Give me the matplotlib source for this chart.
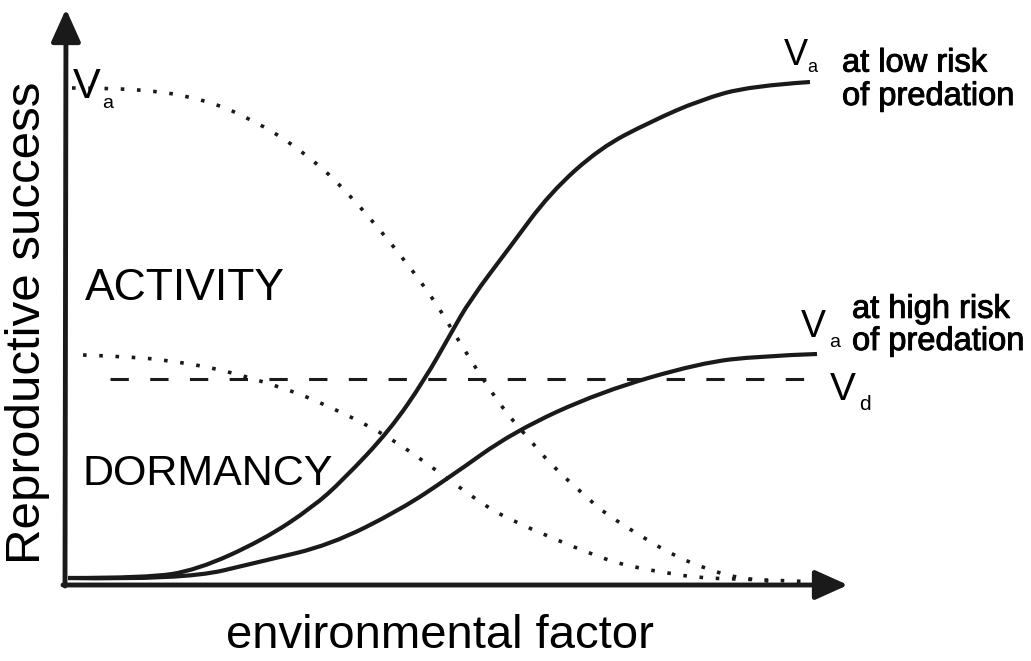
import matplotlib.pyplot as plt
import matplotlib.patheffects as pe
from matplotlib.path import Path
from matplotlib.patches import PathPatch

plt.rcParams['font.family'] = ['Liberation Sans', 'DejaVu Sans']

# values (x = environmental factor, y = reproductive success)
low_x = [3, 82, 132, 198, 248, 278, 325, 360, 385, 405, 445, 485, 535, 585, 635, 685, 745]
low_y = [7, 7, 15, 45, 78, 105, 155, 206, 250, 285, 338, 392, 437, 463, 485, 499, 503]

high_x = [3, 118, 198, 265, 335, 385, 448, 535, 635, 695, 752]
high_y = [7, 5, 24, 40, 75, 108, 153, 193, 222, 229, 231]

dorm1_x = [7, 75, 142, 188, 232, 282, 360, 395, 423, 443, 465, 488, 525, 538, 582, 612, 642, 675, 715]
dorm1_y = [497, 497, 485, 465, 438, 395, 300, 242, 198, 170, 145, 118, 85, 73, 45, 28, 16, 6, 3]

dorm2_x = [18, 72, 105, 138, 172, 202, 235, 267, 298, 328, 357, 383, 412, 440, 535, 568, 602, 635, 675, 755]
dorm2_y = [230, 228, 224, 219, 211, 202, 191, 177, 162, 145, 125, 106, 85, 67, 27, 18, 12, 7, 6, 3]

vd_x = [45, 742]
vd_y = [206, 206]

INK = '#1a1a1a'


def smooth_curve(xs, ys):
    # quadratic spline through the read points, drawn by matplotlib's path
    pts = list(zip(xs, ys))
    verts = [pts[0]]
    codes = [Path.MOVETO]
    for i in range(1, len(pts) - 1):
        if i == len(pts) - 2:
            end = pts[-1]
        else:
            end = ((pts[i][0] + pts[i + 1][0]) / 2, (pts[i][1] + pts[i + 1][1]) / 2)
        verts += [pts[i], end]
        codes += [Path.CURVE3, Path.CURVE3]
    return Path(verts, codes)


fig = plt.figure(figsize=(10.31, 6.61), dpi=100)
ax = fig.add_axes([0, 0, 1, 1])
ax.set_xlim(-65, 966)
ax.set_ylim(-76, 585)
ax.axis('off')

# axes with arrow heads
arrow = dict(arrowstyle='-|>,head_length=1.0,head_width=0.45', lw=3.5, color=INK,
             mutation_scale=20, shrinkA=0, shrinkB=0)
ax.annotate('', xy=(1, 576), xytext=(0, -1), arrowprops=arrow)
ax.annotate('', xy=(783, 0), xytext=(-2, 0), arrowprops=arrow)

ax.add_patch(PathPatch(smooth_curve(low_x, low_y), fill=False, ec=INK, lw=3))
ax.add_patch(PathPatch(smooth_curve(high_x, high_y), fill=False, ec=INK, lw=3))
ax.add_patch(PathPatch(smooth_curve(dorm1_x, dorm1_y), fill=False, ec=INK, lw=2.6,
                       linestyle=(0, (1, 3.5))))
ax.add_patch(PathPatch(smooth_curve(dorm2_x, dorm2_y), fill=False, ec=INK, lw=2.6,
                       linestyle=(0, (1, 3.5))))
ax.plot(vd_x, vd_y, color=INK, lw=2.2, linestyle=(0, (6, 7)))

ax.text(20, 285, 'ACTIVITY', fontsize=32, va='baseline')
ax.text(17, 100, 'DORMANCY', fontsize=31, va='baseline')

ax.text(8, 487, 'V', fontsize=30, va='baseline')
ax.text(37, 477, 'a', fontsize=14, va='baseline')

heavy = [pe.withStroke(linewidth=0.7, foreground='black')]

ax.text(719, 520, 'V', fontsize=26, va='baseline')
ax.text(742, 513, 'a', fontsize=13, va='baseline')
ax.text(777, 480, 'at low risk\nof predation', fontsize=23.5, va='baseline',
        linespacing=1.1, path_effects=heavy)

ax.text(736, 248, 'V', fontsize=27, va='baseline')
ax.text(764, 238, 'a', fontsize=14, va='baseline')
ax.text(787, 235, 'at high risk\nof predation', fontsize=23.5, va='baseline',
        linespacing=1.05, path_effects=heavy)

ax.text(765, 185, 'V', fontsize=28, va='baseline')
ax.text(794, 175, 'd', fontsize=15, va='baseline')

ax.text(-37, 262, 'Reproductive success', fontsize=35.5, rotation=90, ha='center', va='center')
ax.text(375, -63, 'environmental factor', fontsize=34, ha='center', va='baseline')

fig.savefig('out.png', dpi=100)
